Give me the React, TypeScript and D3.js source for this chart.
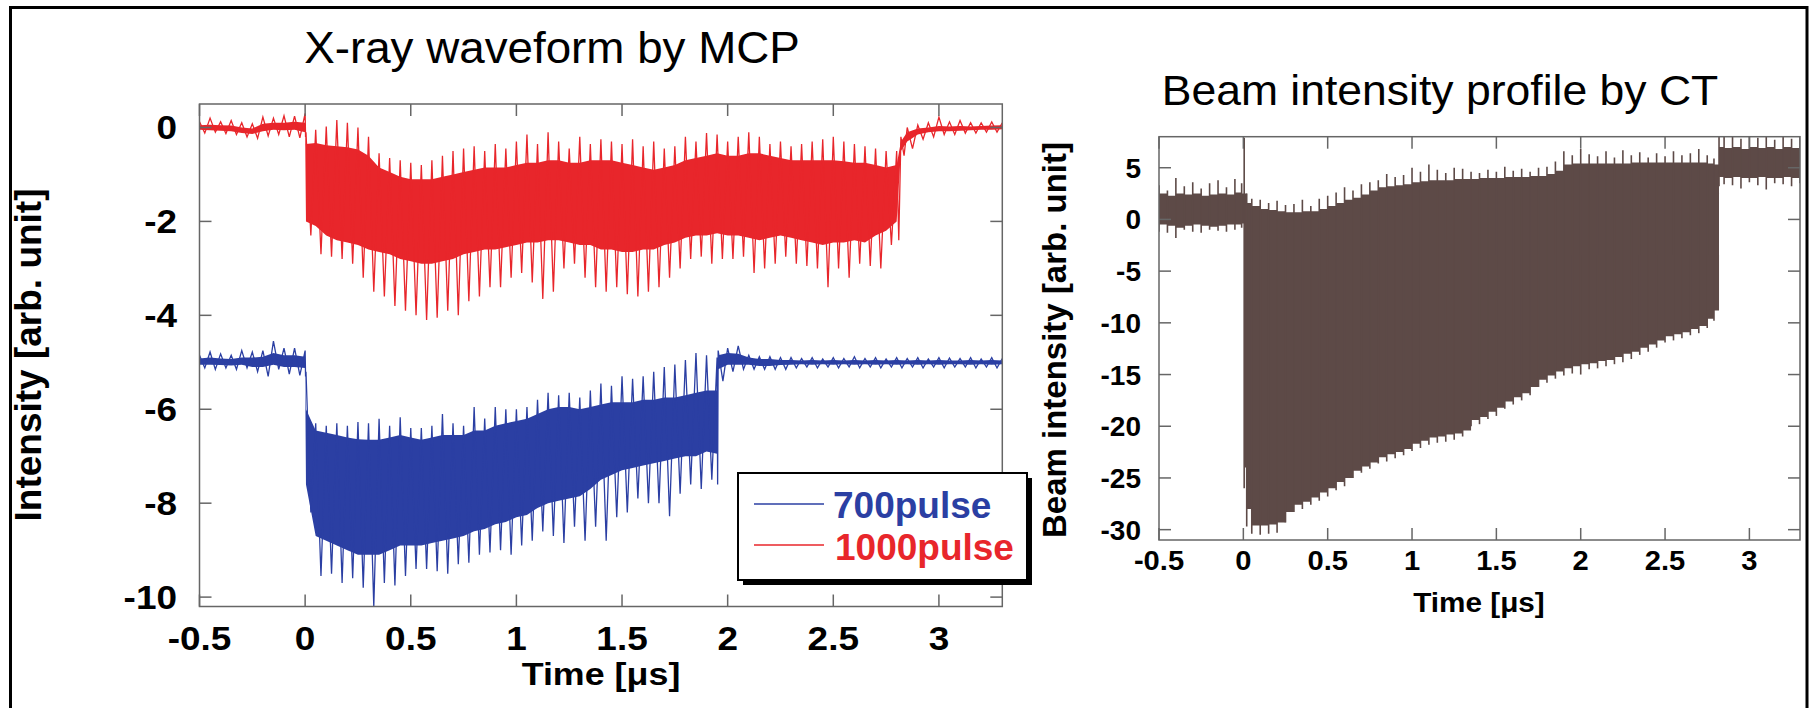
import React, { useEffect, useRef } from 'react';
import * as d3 from 'd3';

// tick values
const timeTicks = [-0.5, 0, 0.5, 1, 1.5, 2, 2.5, 3];
const mcpTicks = [-10, -8, -6, -4, -2, 0];
const ctTicks = [-30, -25, -20, -15, -10, -5, 0, 5];

// MCP 1000pulse trace: spike tip (hi/lo) and dense band (top/bot), read per 0.05 us
const redT = [-0.5, -0.45, -0.4, -0.35, -0.3, -0.25, -0.2, -0.15, -0.1, -0.05, 0, 0.004,
  0.05, 0.1, 0.15, 0.2, 0.25, 0.3, 0.35, 0.4, 0.45, 0.5, 0.55, 0.6, 0.65, 0.7, 0.75, 0.8, 0.85, 0.9, 0.95, 1,
  1.05, 1.1, 1.15, 1.2, 1.25, 1.3, 1.35, 1.4, 1.45, 1.5, 1.55, 1.6, 1.65, 1.7, 1.75, 1.8, 1.85, 1.9, 1.95, 2,
  2.05, 2.1, 2.15, 2.2, 2.25, 2.3, 2.35, 2.4, 2.45, 2.5, 2.55, 2.6, 2.65, 2.7, 2.75, 2.8, 2.82,
  2.85, 2.9, 2.95, 3, 3.05, 3.1, 3.15, 3.2, 3.25, 3.3];
const redHi = [0.12, 0.2, 0.12, 0.15, 0.1, 0.08, 0.22, 0.2, 0.25, 0.24, 0.3, -0.1,
  -0.05, 0.02, 0.16, 0.1, 0.0, -0.2, -0.55, -0.65, -0.7, -0.75, -0.8, -0.7, -0.6, -0.5, -0.45, -0.4, -0.5, -0.35, -0.45, -0.3,
  -0.15, -0.35, -0.1, -0.3, -0.45, -0.2, -0.35, -0.25, -0.3, -0.35, -0.25, -0.4, -0.3, -0.45, -0.4, -0.2, -0.3, -0.12, -0.15, -0.3,
  -0.2, -0.1, -0.2, -0.35, -0.3, -0.4, -0.35, -0.3, -0.25, -0.2, -0.3, -0.35, -0.4, -0.45, -0.5, -0.5, -0.2,
  0.0, 0.05, 0.1, 0.22, 0.12, 0.15, 0.1, 0.1, 0.12, 0.1];
const redTop = [0.05, 0.06, 0.05, 0.04, 0.0, -0.02, 0.08, 0.1, 0.1, 0.12, 0.1, -0.35,
  -0.33, -0.38, -0.4, -0.42, -0.47, -0.6, -0.85, -0.95, -1.05, -1.1, -1.1, -1.1, -1.05, -1.0, -0.95, -0.9, -0.85, -0.85, -0.85, -0.8,
  -0.75, -0.75, -0.7, -0.7, -0.75, -0.75, -0.7, -0.7, -0.7, -0.75, -0.8, -0.85, -0.9, -0.85, -0.8, -0.7, -0.65, -0.6, -0.55, -0.6,
  -0.6, -0.55, -0.55, -0.6, -0.65, -0.7, -0.7, -0.7, -0.7, -0.7, -0.72, -0.75, -0.75, -0.8, -0.85, -0.8, -0.3,
  -0.1, -0.02, 0.0, 0.03, 0.02, 0.03, 0.02, 0.03, 0.04, 0.05];
const redBot = [-0.05, -0.06, -0.07, -0.08, -0.12, -0.14, -0.08, -0.05, -0.06, -0.05, -0.1, -2.0,
  -2.1, -2.3, -2.4, -2.45, -2.5, -2.6, -2.65, -2.7, -2.8, -2.85, -2.9, -2.9, -2.85, -2.8, -2.7, -2.65, -2.6, -2.6, -2.55, -2.5,
  -2.45, -2.45, -2.4, -2.4, -2.45, -2.5, -2.5, -2.6, -2.6, -2.65, -2.65, -2.6, -2.6, -2.5, -2.45, -2.35, -2.3, -2.3, -2.25, -2.3,
  -2.3, -2.35, -2.4, -2.35, -2.3, -2.35, -2.4, -2.45, -2.5, -2.45, -2.45, -2.4, -2.45, -2.3, -2.2, -2.0, -0.5,
  -0.3, -0.15, -0.1, -0.08, -0.08, -0.07, -0.06, -0.05, -0.05, -0.04];
const redLo = [-0.12, -0.1, -0.13, -0.15, -0.2, -0.23, -0.18, -0.15, -0.2, -0.22, -0.2, -2.3,
  -2.7, -2.75, -2.8, -2.9, -3.2, -3.5, -3.6, -3.8, -3.9, -4.0, -4.1, -4.05, -3.9, -4.0, -3.7, -3.6, -3.4, -3.4, -3.2, -3.1,
  -3.3, -3.65, -3.5, -3.0, -2.9, -3.2, -3.4, -3.5, -3.4, -3.55, -3.6, -3.5, -3.4, -3.2, -3.0, -2.8, -2.75, -2.9, -2.8, -2.8,
  -2.75, -3.1, -3.0, -2.9, -2.75, -2.9, -2.95, -3.0, -3.4, -3.0, -3.2, -2.9, -2.95, -3.0, -2.5, -2.4, -0.6,
  -0.45, -0.25, -0.2, -0.15, -0.15, -0.12, -0.12, -0.1, -0.1, -0.1];

// MCP 700pulse trace
const blueT = [-0.5, -0.45, -0.4, -0.35, -0.3, -0.25, -0.2, -0.15, -0.1, -0.05, 0, 0.004,
  0.05, 0.1, 0.15, 0.2, 0.25, 0.3, 0.35, 0.4, 0.45, 0.5, 0.55, 0.6, 0.65, 0.7, 0.75, 0.8, 0.85, 0.9, 0.95, 1,
  1.05, 1.1, 1.15, 1.2, 1.25, 1.3, 1.35, 1.4, 1.45, 1.5, 1.55, 1.6, 1.65, 1.7, 1.75, 1.8, 1.85, 1.9, 1.95, 1.955,
  2, 2.05, 2.1, 2.15, 2.2, 2.25, 2.3, 2.35, 2.4, 2.45, 2.5, 2.55, 2.6, 2.65, 2.7, 2.75, 2.8,
  2.85, 2.9, 2.95, 3, 3.05, 3.1, 3.15, 3.2, 3.25, 3.3];
const blueHi = [-4.85, -4.78, -4.82, -4.85, -4.75, -4.78, -4.75, -4.55, -4.7, -4.7, -4.75, -5.2,
  -6.3, -6.35, -6.3, -6.35, -6.27, -6.3, -6.2, -6.35, -6.17, -6.4, -6.4, -6.35, -6.1, -6.3, -6.35, -5.95, -6.2, -5.95, -6.0, -6.0,
  -5.95, -5.8, -5.65, -5.7, -5.65, -5.75, -5.6, -5.45, -5.5, -5.3, -5.35, -5.3, -5.2, -5.1, -5.05, -4.95, -4.8, -4.85, -4.9, -4.75,
  -4.7, -4.65, -4.85, -4.88, -4.88, -4.9, -4.9, -4.92, -4.9, -4.93, -4.9, -4.92, -4.88, -4.92, -4.9, -4.93, -4.9,
  -4.92, -4.9, -4.93, -4.9, -4.91, -4.92, -4.9, -4.93, -4.9, -4.92];
const blueTop = [-4.92, -4.9, -4.92, -4.93, -4.9, -4.9, -4.88, -4.8, -4.85, -4.85, -4.88, -6.0,
  -6.45, -6.5, -6.55, -6.6, -6.64, -6.65, -6.65, -6.6, -6.55, -6.6, -6.65, -6.6, -6.55, -6.55, -6.55, -6.45, -6.45, -6.35, -6.3, -6.25,
  -6.2, -6.1, -6.0, -5.95, -5.95, -6.0, -5.95, -5.9, -5.85, -5.85, -5.85, -5.8, -5.8, -5.75, -5.75, -5.7, -5.65, -5.6, -5.6, -4.85,
  -4.8, -4.82, -4.9, -4.93, -4.93, -4.95, -4.95, -4.96, -4.95, -4.96, -4.95, -4.96, -4.95, -4.96, -4.95, -4.96, -4.95,
  -4.96, -4.95, -4.96, -4.95, -4.96, -4.96, -4.95, -4.96, -4.95, -4.96];
const blueBot = [-5.05, -5.05, -5.06, -5.07, -5.05, -5.1, -5.1, -5.05, -5.1, -5.1, -5.12, -7.6,
  -8.7, -8.8, -8.9, -9.0, -9.1, -9.1, -9.1, -9.0, -8.9, -8.9, -8.9, -8.85, -8.8, -8.75, -8.7, -8.6, -8.55, -8.45, -8.4, -8.3,
  -8.25, -8.1, -8.0, -7.95, -7.9, -7.85, -7.7, -7.5, -7.4, -7.3, -7.25, -7.2, -7.15, -7.1, -7.05, -7.0, -7.0, -6.9, -6.95, -5.15,
  -5.05, -5.05, -5.05, -5.08, -5.08, -5.06, -5.05, -5.04, -5.05, -5.04, -5.05, -5.04, -5.05, -5.04, -5.05, -5.04, -5.05,
  -5.04, -5.05, -5.04, -5.05, -5.04, -5.04, -5.05, -5.04, -5.05, -5.04];
const blueLo = [-5.12, -5.15, -5.12, -5.15, -5.12, -5.2, -5.3, -5.15, -5.25, -5.28, -5.3, -8.2,
  -9.55, -9.5, -9.7, -9.6, -9.8, -10.2, -9.7, -9.75, -9.55, -9.4, -9.4, -9.45, -9.5, -9.3, -9.27, -9.1, -9.05, -9.0, -9.1, -8.9,
  -8.8, -8.6, -8.7, -8.85, -8.5, -8.8, -8.5, -8.8, -8.3, -8.2, -7.9, -8.0, -8.0, -8.28, -7.8, -7.6, -7.7, -7.5, -7.6, -5.4,
  -5.2, -5.15, -5.15, -5.15, -5.15, -5.15, -5.12, -5.1, -5.12, -5.1, -5.12, -5.1, -5.12, -5.1, -5.12, -5.1, -5.12,
  -5.1, -5.12, -5.1, -5.12, -5.1, -5.1, -5.12, -5.1, -5.12, -5.1];

// CT beam intensity trace
const ctT = [-0.5, -0.45, -0.4, -0.35, -0.3, -0.25, -0.2, -0.15, -0.1, -0.05, -0.01, 0.005, 0.02,
  0.05, 0.1, 0.15, 0.2, 0.25, 0.3, 0.35, 0.4, 0.45, 0.5, 0.55, 0.6, 0.65, 0.7, 0.75, 0.8, 0.85, 0.9, 0.95, 1,
  1.05, 1.1, 1.15, 1.2, 1.25, 1.3, 1.35, 1.4, 1.45, 1.5, 1.55, 1.6, 1.65, 1.7, 1.75, 1.8, 1.85, 1.9, 1.95, 2,
  2.05, 2.1, 2.15, 2.2, 2.25, 2.3, 2.35, 2.4, 2.45, 2.5, 2.55, 2.6, 2.65, 2.7, 2.75, 2.79, 2.82,
  2.85, 2.9, 2.95, 3, 3.05, 3.1, 3.15, 3.2, 3.25, 3.3];
const ctHi = [3.3, 2.8, 4.0, 3.2, 3.6, 3.0, 3.5, 3.8, 3.1, 3.9, 3.5, 7.9, 2.5,
  2.0, 1.9, 1.6, 1.8, 1.4, 1.5, 1.9, 1.3, 2.0, 2.3, 2.6, 3.1, 2.8, 3.4, 3.6, 3.8, 4.4, 4.1, 4.3, 5.0,
  4.6, 5.3, 4.8, 4.5, 5.0, 4.9, 4.6, 4.5, 4.8, 4.6, 5.1, 4.7, 4.9, 4.6, 5.0, 5.1, 5.6, 6.6, 6.2, 6.8,
  6.3, 6.1, 6.6, 6.0, 6.7, 6.2, 6.5, 6.0, 6.4, 6.1, 6.6, 6.2, 6.4, 6.8, 6.2, 5.9, 8.0,
  8.0, 8.0, 7.8, 8.0, 7.9, 8.0, 7.7, 8.0, 7.8, 8.0];
const ctTop = [2.5, 2.3, 2.5, 2.4, 2.5, 2.3, 2.4, 2.5, 2.4, 2.6, 2.5, 2.5, 1.6,
  1.3, 1.0, 0.9, 0.8, 0.7, 0.7, 0.8, 0.8, 1.0, 1.3, 1.6, 1.9, 2.1, 2.4, 2.8, 3.1, 3.2, 3.3, 3.4, 3.6,
  3.7, 3.8, 3.8, 3.8, 3.9, 3.9, 3.9, 4.0, 4.0, 4.0, 4.1, 4.1, 4.1, 4.2, 4.2, 4.4, 4.7, 5.3, 5.4, 5.4,
  5.4, 5.4, 5.4, 5.4, 5.4, 5.5, 5.5, 5.5, 5.5, 5.5, 5.5, 5.5, 5.5, 5.5, 5.4, 5.3, 7.0,
  6.9, 7.0, 6.8, 7.0, 6.9, 7.0, 6.8, 7.0, 6.9, 7.0];
const ctBot = [-0.5, -0.6, -0.8, -0.6, -0.5, -0.6, -0.7, -0.6, -0.5, -0.5, -0.4, -24, -28,
  -29.6, -29.6, -29.5, -29.3, -28.3, -27.6, -27.3, -26.9, -26.4, -26.0, -25.4, -25.0, -24.3, -23.9, -23.5, -23.0, -22.7, -22.5, -22.2, -21.7,
  -21.4, -21.1, -21.0, -20.8, -20.7, -20.4, -19.4, -19.1, -18.6, -18.2, -17.6, -17.2, -16.8, -16.2, -15.5, -15.1, -14.7, -14.4, -14.2, -14.0,
  -13.9, -13.7, -13.6, -13.3, -13.0, -12.8, -12.4, -12.1, -11.7, -11.3, -11.1, -10.9, -10.6, -10.3, -9.6, -8.8, 4.1,
  4.0, 4.1, 4.0, 4.0, 4.1, 4.0, 4.0, 4.1, 4.0, 4.1];
const ctLo = [-1.2, -1.3, -1.8, -1.0, -1.2, -1.3, -1.0, -1.1, -1.2, -1.0, -0.8, -26, -29.7,
  -30.4, -30.5, -30.4, -30.3, -29.3, -28.3, -28.0, -27.6, -27.2, -26.8, -26.2, -25.8, -25.0, -24.5, -24.1, -23.6, -23.4, -23.1, -22.8, -22.4,
  -22.1, -21.8, -21.6, -21.5, -21.3, -21.0, -20.0, -19.8, -19.3, -19.0, -18.3, -17.9, -17.5, -17.0, -16.2, -15.8, -15.4, -15.1, -14.9, -15.0,
  -14.5, -14.4, -14.2, -14.0, -13.8, -13.5, -13.1, -12.8, -12.4, -11.9, -11.7, -11.5, -11.2, -11.0, -10.5, -9.8, 3.2,
  3.4, 3.3, 3.0, 3.6, 3.3, 2.9, 3.5, 3.4, 3.2, 3.5];

const FONT = '"Liberation Sans", Arial, Helvetica, sans-serif';
const RED = '#e8262b';
const BLUE = '#2b3fa3';
const BROWN = '#5d4a47';
const AXIS = '#666';

const App = () => {
  const svgRef = useRef<SVGSVGElement>(null);

  useEffect(() => {
    const svg = d3.select(svgRef.current);
    svg.selectAll('*').remove();

    const label = (text: string, x: number, y: number, size: number, opts: any = {}) =>
      svg
        .append('text')
        .attr('transform', `translate(${x},${y}) scale(${opts.sx ?? 1},1)${opts.rotate ? ' rotate(-90)' : ''}`)
        .attr('font-family', FONT)
        .attr('font-size', size)
        .attr('font-weight', opts.bold ? 'bold' : 'normal')
        .attr('text-anchor', opts.anchor ?? 'middle')
        .attr('fill', opts.fill ?? '#000')
        .text(text);

    // outer frame
    svg
      .append('path')
      .attr('d', 'M10.5,708V7.5H1807V708')
      .attr('fill', 'none')
      .attr('stroke', '#000')
      .attr('stroke-width', 3);

    const defs = svg.append('defs');

    const drawTrace = (g, x, y, t, hi, top, bot, lo, color, step) => {
      const idx = d3.range(t.length);
      const area = d3
        .area<number>()
        .x(i => x(t[i]))
        .y0(i => y(bot[i]))
        .y1(i => y(top[i]))
        .curve(step ? d3.curveStepAfter : d3.curveLinear);
      g.append('path').attr('d', area(idx)).attr('fill', color);

      if (step) {
        g.selectAll(null)
          .data(idx)
          .join('line')
          .attr('x1', i => x(t[i]))
          .attr('x2', i => x(t[i]))
          .attr('y1', i => y(hi[i]))
          .attr('y2', i => y(lo[i]))
          .attr('stroke', color)
          .attr('stroke-width', 1.6);
      } else {
        const pts: [number, number][] = [];
        idx.forEach(i => {
          pts.push([t[i], hi[i]]);
          if (i < t.length - 1) pts.push([(t[i] + t[i + 1]) / 2, lo[i]]);
        });
        const line = d3
          .line<[number, number]>()
          .x(d => x(d[0]))
          .y(d => y(d[1]));
        g.append('path')
          .attr('d', line(pts))
          .attr('fill', 'none')
          .attr('stroke', color)
          .attr('stroke-width', 1.3);
      }
    };

    const drawFrame = (x, y, xTicks, yTicks, len) => {
      const [x0, x1] = x.range();
      const [y0, y1] = y.range();
      const g = svg.append('g').attr('stroke', AXIS).attr('stroke-width', 1.5);
      g.append('rect')
        .attr('x', x0)
        .attr('y', y1)
        .attr('width', x1 - x0)
        .attr('height', y0 - y1)
        .attr('fill', 'none');
      xTicks.forEach(v => {
        g.append('line').attr('x1', x(v)).attr('x2', x(v)).attr('y1', y0).attr('y2', y0 - len);
        g.append('line').attr('x1', x(v)).attr('x2', x(v)).attr('y1', y1).attr('y2', y1 + len);
      });
      yTicks.forEach(v => {
        g.append('line').attr('x1', x0).attr('x2', x0 + len).attr('y1', y(v)).attr('y2', y(v));
        g.append('line').attr('x1', x1).attr('x2', x1 - len).attr('y1', y(v)).attr('y2', y(v));
      });
    };

    // ---- left: X-ray waveform by MCP ----
    const mx = d3.scaleLinear().domain([-0.5, 3.3]).range([199.5, 1002.3]);
    const my = d3.scaleLinear().domain([-10.2, 0.5]).range([606.5, 104]);

    defs.append('clipPath').attr('id', 'clipL').append('rect')
      .attr('x', 199.5).attr('y', 104).attr('width', 1002.3 - 199.5).attr('height', 606.5 - 104);
    const gl = svg.append('g').attr('clip-path', 'url(#clipL)');
    drawTrace(gl, mx, my, blueT, blueHi, blueTop, blueBot, blueLo, BLUE, false);
    drawTrace(gl, mx, my, redT, redHi, redTop, redBot, redLo, RED, false);
    drawFrame(mx, my, timeTicks, mcpTicks, 12);

    timeTicks.forEach(v => label(String(v), mx(v), 650, 33, { bold: true, sx: 1.12 }));
    mcpTicks.forEach(v => label(String(v), 177, my(v) + 11.5, 33, { bold: true, sx: 1.12, anchor: 'end' }));
    label('Time [\u03bcs]', 601, 685, 32, { bold: true, sx: 1.12 });
    label('Intensity [arb. unit]', 41, 355, 37, { bold: true, rotate: true });
    label('X-ray waveform by MCP', 552, 63, 44, { sx: 1.04 });

    // legend
    svg.append('rect').attr('x', 743).attr('y', 478).attr('width', 289).attr('height', 107).attr('fill', '#000');
    svg.append('rect').attr('x', 738).attr('y', 473).attr('width', 289).attr('height', 107)
      .attr('fill', '#fff').attr('stroke', '#000').attr('stroke-width', 2);
    svg.append('line').attr('x1', 754).attr('x2', 824).attr('y1', 504).attr('y2', 504).attr('stroke', BLUE).attr('stroke-width', 1.5);
    svg.append('line').attr('x1', 754).attr('x2', 824).attr('y1', 545).attr('y2', 545).attr('stroke', RED).attr('stroke-width', 1.5);
    label('700pulse', 833, 518, 37, { bold: true, anchor: 'start', fill: BLUE });
    label('1000pulse', 835, 560, 37, { bold: true, anchor: 'start', fill: RED });

    // ---- right: Beam intensity profile by CT ----
    const cx = d3.scaleLinear().domain([-0.5, 3.3]).range([1159, 1800]);
    const cy = d3.scaleLinear().domain([-31, 8]).range([540, 136.7]);

    defs.append('clipPath').attr('id', 'clipR').append('rect')
      .attr('x', 1159).attr('y', 136.7).attr('width', 1800 - 1159).attr('height', 540 - 136.7);
    const gr = svg.append('g').attr('clip-path', 'url(#clipR)');
    drawTrace(gr, cx, cy, ctT, ctHi, ctTop, ctBot, ctLo, BROWN, true);
    drawFrame(cx, cy, timeTicks, ctTicks, 12);

    timeTicks.forEach(v => label(String(v), cx(v), 570, 28, { bold: true, sx: 1.04 }));
    ctTicks.forEach(v => label(String(v), 1141, cy(v) + 10, 28, { bold: true, anchor: 'end' }));
    label('Time [\u03bcs]', 1479, 612, 27, { bold: true, sx: 1.1 });
    label('Beam intensity [arb. unit]', 1066, 340, 33, { bold: true, rotate: true });
    label('Beam intensity profile by CT', 1440, 105, 42, { sx: 1.06 });
  }, []);

  return (
    <svg
      ref={svgRef}
      width={1812}
      height={708}
      style={{ position: 'absolute', left: 0, top: 0, background: '#fff' }}
    />
  );
};

export default App;
